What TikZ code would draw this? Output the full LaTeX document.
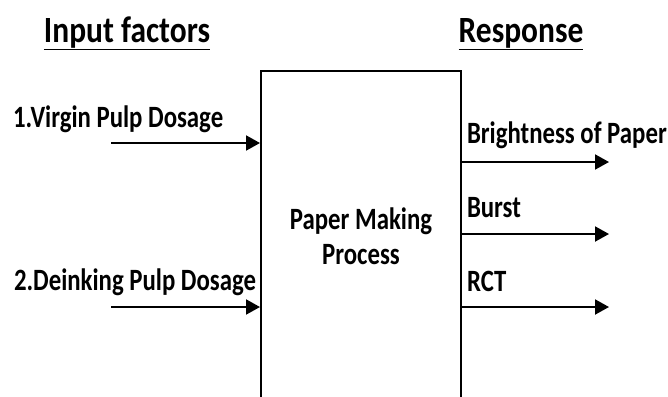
\documentclass[tikz,border=0pt]{standalone}
\usepackage{fontspec}
\setmainfont{Carlito}[FakeStretch=0.8]
\newfontfamily\headfont{Carlito}[FakeStretch=0.85]
\usepackage{tikz}
\usetikzlibrary{arrows.meta,positioning}

\begin{document}
\begin{tikzpicture}[x=1pt,y=-1pt,->,>={Triangle[length=14pt,width=15pt]},line width=2pt,
                    font=\bfseries\fontsize{31}{35}\selectfont]
  \tikzstyle{factor}=[inner sep=0pt,anchor=base west]
  \tikzstyle{heading}=[inner sep=0pt,anchor=base,font=\headfont\bfseries\fontsize{37}{40}\selectfont]
  \useasboundingbox (0,0) rectangle (668,396);
  \clip (0,0) rectangle (668,396);

  \node[draw,minimum width=200pt,minimum height=330pt,anchor=north west,
        align=center] (box) at (260,70) {Paper Making\\Process};

  \node[heading] (inhead)  at (127,42) {\underline{Input factors}};
  \node[heading] (outhead) at (521,42) {\underline{Response}};

  % input factors
  \coordinate (in1) at (111,143);
  \coordinate (in2) at (111,307);
  \node[factor] (virgin)  at (12,127) {1.Virgin Pulp Dosage};
  \node[factor] (deink)   at (13,290) {2.Deinking Pulp Dosage};
  \draw (in1) -- (in1 -| box.west);
  \draw (in2) -- (in2 -| box.west);

  % responses
  \coordinate (out1) at (609,162);
  \coordinate (out2) at (609,234);
  \coordinate (out3) at (609,307);
  \node[factor] (bright) at (466,143) {Brightness of Paper};
  \node[factor] (burst)  at (466,217) {Burst};
  \node[factor] (rct)    at (466,291) {RCT};
  \draw (out1 -| box.east) -- (out1);
  \draw (out2 -| box.east) -- (out2);
  \draw (out3 -| box.east) -- (out3);
\end{tikzpicture}
\end{document}
